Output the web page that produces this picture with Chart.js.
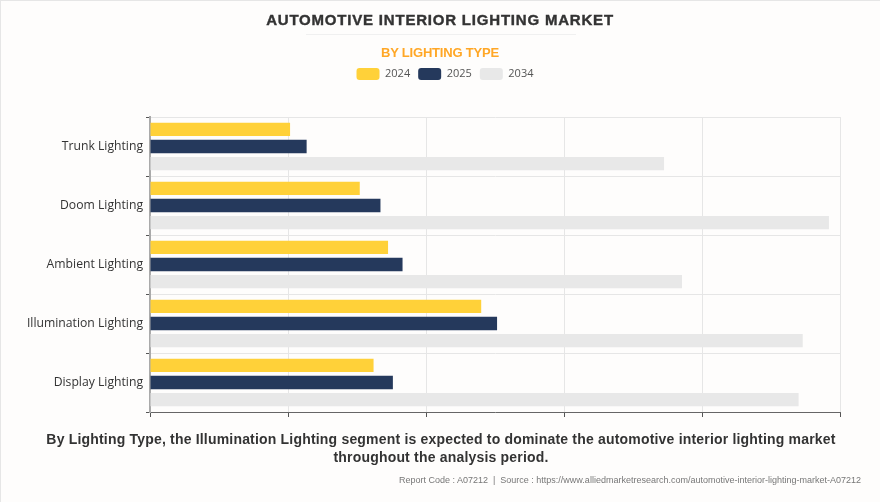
<!DOCTYPE html>
<html>
<head>
<meta charset="utf-8">
<style>
  html, body { margin: 0; padding: 0; background: #fefdfc; }
  #wrap { position: relative; width: 880px; height: 502px; overflow: hidden; box-sizing: border-box; border-top: 1px solid #e6e6e6; border-left: 1px solid #e6e6e6; }
  #chart { position: absolute; left: -1px; top: -1px; }
  .txt { position: absolute; left: -1px; width: 880px; text-align: center; font-family: "Liberation Sans", Arial, sans-serif; white-space: nowrap; }
  #title { top: 10px; font-size: 15px; font-weight: bold; letter-spacing: 0.8px; color: #333; -webkit-text-stroke: 0.4px #333; }
  #rule { position: absolute; left: 305px; top: 33px; width: 270px; height: 1px; background: #f0f0f0; }
  #sub { top: 44px; font-size: 13px; font-weight: bold; letter-spacing: -0.2px; color: #ffa726; }
  #note { top: 429px; left: 0; font-size: 14px; font-weight: bold; line-height: 18px; letter-spacing: 0.19px; color: #333; }
  #foot { top: 474px; left: auto; right: 19px; width: auto; font-size: 9px; color: #777; }
</style>
</head>
<body>
<div id="wrap">
  <canvas id="chart" width="880" height="502"></canvas>
  <div class="txt" id="title">AUTOMOTIVE INTERIOR LIGHTING MARKET</div>
  <div id="rule"></div>
  <div class="txt" id="sub">BY LIGHTING TYPE</div>
  <div class="txt" id="note">By Lighting Type, the Illumination Lighting segment is expected to dominate the automotive interior lighting market<br>throughout the analysis period.</div>
  <div class="txt" id="foot">Report Code : A07212&nbsp; |&nbsp; Source : https://www.alliedmarketresearch.com/automotive-interior-lighting-market-A07212</div>
</div>
<script src="https://cdn.jsdelivr.net/npm/chart.js@4"></script>
<script>
const categories = ['Trunk Lighting', 'Doom Lighting', 'Ambient Lighting', 'Illumination Lighting', 'Display Lighting'];
const values2024 = [101.5, 152, 172.5, 240, 162];
const values2025 = [113.5, 167, 183, 251.5, 176];
const values2034 = [372.5, 492, 385.5, 473, 470];

// room between the legend and the plot, and legend nudged right of centre
const legendGap = {
  id: 'legendGap',
  beforeInit(chart) {
    const fit = chart.legend.fit;
    chart.legend.fit = function () {
      fit.call(this);
      this.height += 27;
      this.lineWidths[0] -= 50;
    };
  },
};

new Chart(document.getElementById('chart'), {
  type: 'bar',
  data: {
    labels: categories,
    datasets: [
      { label: '2024', data: values2024, backgroundColor: '#ffd139' },
      { label: '2025', data: values2025, backgroundColor: '#25395c' },
      { label: '2034', data: values2034, backgroundColor: '#e8e8e8' },
    ],
  },
  plugins: [legendGap],
  options: {
    indexAxis: 'y',
    responsive: false,
    animation: false,
    categoryPercentage: 0.87,
    barPercentage: 0.78,
    layout: { padding: { top: 60, right: 40, bottom: 85, left: 0 } },
    plugins: {
      tooltip: { enabled: false },
      legend: {
        position: 'top',
        labels: {
          boxWidth: 23,
          boxHeight: 12,
          useBorderRadius: true,
          borderRadius: 3,
          color: '#555',
          padding: 8,
          font: { family: '"Open Sans"', size: 11 },
        },
      },
    },
    scales: {
      x: {
        min: 0,
        max: 500,
        ticks: { display: false, stepSize: 100 },
        grid: { color: '#e6e6e6', tickColor: '#555', tickLength: 5 },
        border: { color: '#666' },
        afterFit: s => { s.height = 5; },
      },
      y: {
        ticks: { color: '#333', padding: 3, font: { family: '"Open Sans"', size: 12.2 } },
        grid: { color: '#e6e6e6', tickColor: '#555', tickLength: 4 },
        border: { color: '#aaa', width: 2 },
        afterFit: s => { s.width = 150; },
      },
    },
  },
});
</script>
</body>
</html>
